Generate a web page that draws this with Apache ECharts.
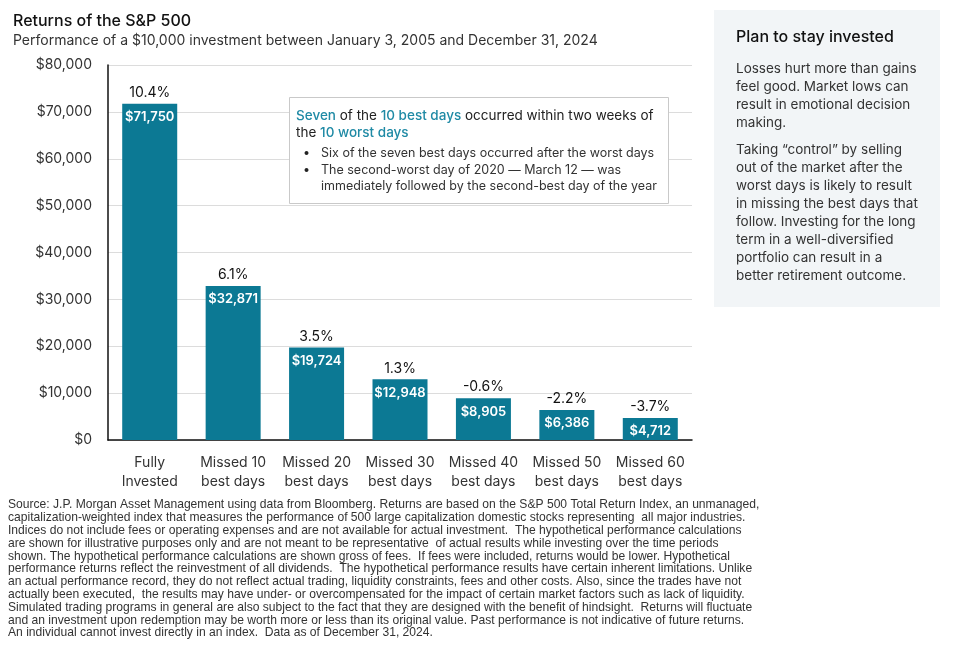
<!DOCTYPE html>
<html>
<head>
<meta charset="utf-8">
<script src="https://cdn.jsdelivr.net/npm/echarts@6/dist/echarts.min.js"></script>
<style>
html,body{margin:0;padding:0;background:#fff;}
#c{width:964px;height:661px;}
</style>
</head>
<body>
<div id="c"></div>
<script>
const categories = ['Fully\nInvested','Missed 10\nbest days','Missed 20\nbest days','Missed 30\nbest days','Missed 40\nbest days','Missed 50\nbest days','Missed 60\nbest days'];
const values = [71750, 32871, 19724, 12948, 8905, 6386, 4712];
const returns = ['10.4%','6.1%','3.5%','1.3%','-0.6%','-2.2%','-3.7%'];
const yTicks = [0, 10000, 20000, 30000, 40000, 50000, 60000, 70000, 80000];

const panelLines1 = ['Losses hurt more than gains','feel good. Market lows can','result in emotional decision','making.'];
const panelLines2 = ['Taking \u201ccontrol\u201d by selling','out of the market after the','worst days is likely to result','in missing the best days that','follow. Investing for the long','term in a well-diversified','portfolio can result in a','better retirement outcome.'];
const footLines = [
'Source: J.P. Morgan Asset Management using data from Bloomberg. Returns are based on the S&P 500 Total Return Index, an unmanaged,',
'capitalization-weighted index that measures the performance of 500 large capitalization domestic stocks representing  all major industries.',
'Indices do not include fees or operating expenses and are not available for actual investment.  The hypothetical performance calculations',
'are shown for illustrative purposes only and are not meant to be representative  of actual results while investing over the time periods',
'shown. The hypothetical performance calculations are shown gross of fees.  If fees were included, returns would be lower. Hypothetical',
'performance returns reflect the reinvestment of all dividends.  The hypothetical performance results have certain inherent limitations. Unlike',
'an actual performance record, they do not reflect actual trading, liquidity constraints, fees and other costs. Also, since the trades have not',
'actually been executed,  the results may have under- or overcompensated for the impact of certain market factors such as lack of liquidity.',
'Simulated trading programs in general are also subject to the fact that they are designed with the benefit of hindsight.  Returns will fluctuate',
'and an investment upon redemption may be worth more or less than its original value. Past performance is not indicative of future returns.',
'An individual cannot invest directly in an index.  Data as of December 31, 2024.'
];

const FONT = 'Inter, Roboto, "Noto Sans", sans-serif';
const TEAL = '#0c7994';
const HL = '#1f8aa5';

function fmt(v){ return '$' + v.toLocaleString('en-US'); }

const chart = echarts.init(document.getElementById('c'), null, {renderer:'canvas'});

const graphics = [];
// right panel
graphics.push({type:'rect', left:714, top:10, shape:{width:226, height:297}, style:{fill:'#f2f5f7'}, z:-1});
graphics.push({type:'text', left:736, top:29, style:{text:'Plan to stay invested', font:'500 16px ' + FONT, fill:'#111'}});
panelLines1.forEach((t,i)=>graphics.push({type:'text', left:736, top:62 + i*18, style:{text:t, font:'13.5px ' + FONT, fill:'#333'}}));
panelLines2.forEach((t,i)=>graphics.push({type:'text', left:736, top:143 + i*18, style:{text:t, font:'13.5px ' + FONT, fill:'#333'}}));
// annotation box
graphics.push({type:'rect', left:289, top:97, shape:{width:379, height:106}, style:{fill:'#fff', stroke:'#c9c9c9', lineWidth:1}, z:10});
graphics.push({type:'text', left:296, top:109, z:11, style:{
  text:'{h|Seven}{n| of the }{h|10 best days}{n| occurred within two weeks of}\n{n|the }{h|10 worst days}',
  rich:{h:{font:'500 13.5px ' + FONT, fill:HL, lineHeight:17}, n:{font:'13.5px ' + FONT, fill:'#222', lineHeight:17}}
}});
graphics.push({type:'text', left:303, top:145, z:11, style:{text:'\u2022\n\u2022', font:'12.5px ' + FONT, fill:'#222', lineHeight:16.5}});
graphics.push({type:'text', left:321, top:145, z:11, style:{
  text:'Six of the seven best days occurred after the worst days\nThe second-worst day of 2020 \u2014 March 12 \u2014 was\nimmediately followed by the second-best day of the year',
  font:'12.5px ' + FONT, fill:'#333', lineHeight:16.5}});
// footnote
footLines.forEach((t,i)=>graphics.push({type:'text', left:8, top:499 + i*12.8, style:{text:t, font:'12.1px "Liberation Sans", Arial, sans-serif', fill:'#333'}}));

chart.setOption({
  animation:false,
  title:{
    text:'Returns of the S&P 500',
    subtext:'Performance of a $10,000 investment between January 3, 2005 and December 31, 2024',
    left:8, top:8, itemGap:5,
    textStyle:{fontFamily:FONT, fontSize:16, fontWeight:500, color:'#111'},
    subtextStyle:{fontFamily:FONT, fontSize:14, color:'#333'}
  },
  grid:{left:108, right:272, top:65, bottom:221, containLabel:false},
  xAxis:{
    type:'category', data:categories,
    axisLine:{show:true, lineStyle:{color:'#111', width:1.5}},
    axisTick:{show:false},
    axisLabel:{fontFamily:FONT, fontSize:14, color:'#333', lineHeight:19, margin:13, interval:0}
  },
  yAxis:{
    type:'value', min:0, max:80000, interval:10000,
    axisLine:{show:true, lineStyle:{color:'#111', width:1.5}},
    axisTick:{show:false},
    splitLine:{lineStyle:{color:'#dcdcdc', width:1}},
    axisLabel:{fontFamily:FONT, fontSize:14, color:'#333', margin:16,
      formatter:v=>yTicks.includes(v)?fmt(v):''}
  },
  series:[
    {type:'bar', data:values, barWidth:55, itemStyle:{color:TEAL},
     label:{show:true, position:'insideTop', distance:7, formatter:p=>fmt(p.value),
       fontFamily:FONT, fontSize:13, fontWeight:600, color:'#fff'}},
    {type:'bar', data:values, barWidth:55, barGap:'-100%', itemStyle:{color:'rgba(0,0,0,0)'}, silent:true,
     label:{show:true, position:'top', distance:4, formatter:p=>returns[p.dataIndex],
       fontFamily:FONT, fontSize:14, color:'#111'}}
  ],
  graphic:graphics
});
</script>
</body>
</html>
